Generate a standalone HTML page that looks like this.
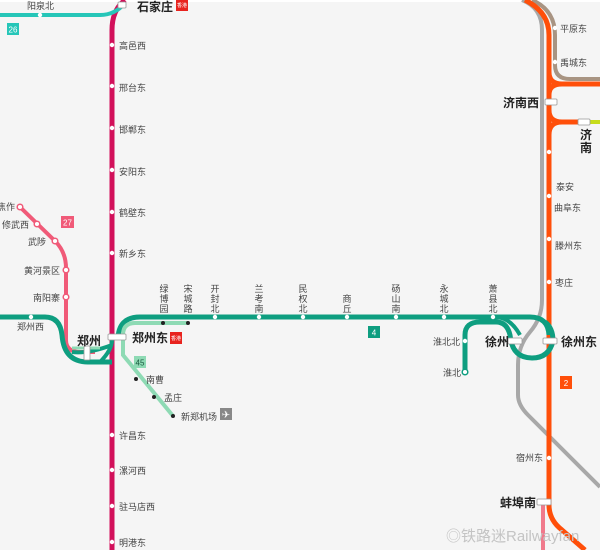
<!DOCTYPE html>
<html><head><meta charset="utf-8"><style>
html,body{margin:0;padding:0;background:#f5f5f5}
svg{display:block}
text{font-family:"Liberation Sans","Noto Sans CJK SC",sans-serif;fill:#444;font-size:9px}
.b{font-weight:bold;font-size:12px;fill:#222}
.w{fill:#fff;font-size:8px}
</style></head><body>
<svg width="600" height="550" viewBox="0 0 600 550">
<rect width="600" height="550" fill="#f5f5f5"/>
<line x1="0" y1="1" x2="600" y2="1" stroke="#fff" stroke-width="2"/>
<!-- gray -->
<path d="M522,0 Q542,8 542,30 L542,300 Q542,318 530,332 Q518,346 518,365 L518,395 Q518,405 528,415 L600,487" fill="none" stroke="#a8a8a8" stroke-width="4"/>
<!-- brown -->
<path d="M532,0 Q555,10 555,35 L555,65 Q555,79 570,79 L600,79" fill="none" stroke="#a89482" stroke-width="4"/>
<!-- orange -->
<path d="M525,0 Q549,12 549,35 L549,505 Q549,520 562,530 L585,550" fill="none" stroke="#ff4f0a" stroke-width="5"/>
<path d="M549,95 Q549,84 562,84 L600,84" fill="none" stroke="#ff4f0a" stroke-width="5"/>
<path d="M549,110 Q549,122 562,122 L582,122" fill="none" stroke="#ff4f0a" stroke-width="5"/>
<path d="M549,135 Q549,122 562,122" fill="none" stroke="#ff4f0a" stroke-width="5"/>
<path d="M549,72 Q549,84 562,84" fill="none" stroke="#ff4f0a" stroke-width="5"/>
<line x1="582" y1="122" x2="600" y2="122" stroke="#c6dc1a" stroke-width="4"/>
<line x1="543" y1="505" x2="543" y2="550" stroke="#f07a8c" stroke-width="4"/>
<!-- magenta -->
<path d="M125,0 Q112,10 112,30 L112,550" fill="none" stroke="#d2105a" stroke-width="5"/>
<!-- teal 26 -->
<path d="M0,15 L100,15 Q115,15 125,3" fill="none" stroke="#26c6b8" stroke-width="4"/>
<!-- pink 27 -->
<path d="M20,207 L55,241 Q66,252 66,268 L66,340 Q66,352 80,352 L95,352" fill="none" stroke="#f05a78" stroke-width="4"/>
<!-- green 4 -->
<path d="M0,317 L45,317 Q60,317 62,335 Q64,362 88,362 L112,362" fill="none" stroke="#0e9e80" stroke-width="5"/>
<path d="M72,352 Q88,354 112,345 M100,362 Q112,350 112,340" fill="none" stroke="#0e9e80" stroke-width="4"/>
<path d="M118,340 Q118,317 140,317 L530,317 Q548,317 549,335" fill="none" stroke="#0e9e80" stroke-width="5"/>
<path d="M465,372 L465,335 Q465,322 480,322 Q492,322 496,322 Q507,322 510,335 Q512,358 532,358 Q549,358 553,341 Q553,328 545,322" fill="none" stroke="#0e9e80" stroke-width="5"/>
<path d="M495,317 Q510,317 520,335" fill="none" stroke="#0e9e80" stroke-width="4"/>
<!-- light green 45 -->
<path d="M188,323 L135,323 Q123,323 123,335 L123,355 L173,416" fill="none" stroke="#8edab4" stroke-width="4"/>
<path d="M72,348 L100,348" stroke="#8edab4" stroke-width="3"/>
<!-- stations white dots -->
<g fill="#fff">
<circle cx="40" cy="15" r="2.2"/>
<circle cx="112" cy="45" r="2.2"/><circle cx="112" cy="86" r="2.2"/><circle cx="112" cy="128" r="2.2"/><circle cx="112" cy="170" r="2.2"/><circle cx="112" cy="212" r="2.2"/><circle cx="112" cy="253" r="2.2"/>
<circle cx="112" cy="435" r="2.2"/><circle cx="112" cy="470" r="2.2"/><circle cx="112" cy="506" r="2.2"/><circle cx="112" cy="542" r="2.2"/>
<circle cx="31" cy="317" r="2.2"/>
<circle cx="215" cy="317" r="2.2"/><circle cx="259" cy="317" r="2.2"/><circle cx="303" cy="317" r="2.2"/><circle cx="347" cy="317" r="2.2"/><circle cx="396" cy="317" r="2.2"/><circle cx="444" cy="317" r="2.2"/><circle cx="493" cy="317" r="2.2"/>
<circle cx="465" cy="341" r="2.2"/>
<circle cx="555" cy="28" r="2.2"/><circle cx="555" cy="62" r="2.2"/>
<circle cx="549" cy="152" r="2.2"/><circle cx="549" cy="196" r="2.2"/><circle cx="549" cy="239" r="2.2"/><circle cx="549" cy="282" r="2.2"/><circle cx="549" cy="458" r="2.2"/>
</g>
<g fill="#fff" stroke-width="1.5">
<circle cx="20" cy="207" r="2.8" stroke="#f05a78"/><circle cx="37" cy="224" r="2.8" stroke="#f05a78"/><circle cx="55" cy="241" r="2.8" stroke="#f05a78"/><circle cx="66" cy="270" r="2.8" stroke="#f05a78"/><circle cx="66" cy="297" r="2.8" stroke="#f05a78"/>
<circle cx="465" cy="372" r="2.8" stroke="#0e9e80"/>
</g>
<g fill="#222"><circle cx="163" cy="323" r="2"/><circle cx="188" cy="323" r="2"/><circle cx="136" cy="379" r="2"/><circle cx="154" cy="397" r="2"/><circle cx="173" cy="416" r="2"/></g>
<!-- interchange boxes -->
<g fill="#fff" stroke="#999" stroke-width="0.8">
<rect x="108" y="334" width="18" height="6" rx="1"/><rect x="84" y="346" width="6" height="14" rx="1"/>
<rect x="508" y="338" width="14" height="6" rx="1"/><rect x="543" y="338" width="14" height="6" rx="1"/>
<rect x="545" y="99" width="12" height="6" rx="1"/><rect x="578" y="119" width="12" height="6" rx="1"/>
<rect x="537" y="499" width="14" height="6" rx="1"/><rect x="118" y="2" width="8" height="6" rx="1"/>
</g>
<!-- badges -->
<rect x="7" y="23" width="12" height="12" fill="#26c6b8"/><text x="13" y="32.5" class="w" text-anchor="middle">26</text>
<rect x="61" y="216" width="13" height="12" fill="#f05a78"/><text x="67.5" y="225.5" class="w" text-anchor="middle">27</text>
<rect x="368" y="326" width="12" height="12" fill="#0e9e80"/><text x="374" y="335.5" class="w" text-anchor="middle">4</text>
<rect x="134" y="356" width="12" height="12" fill="#8edab4"/><text x="140" y="365.5" text-anchor="middle" style="fill:#1a5a40;font-size:8px">45</text>
<rect x="560" y="376" width="12" height="13" fill="#ff4f0a"/><text x="566" y="386" class="w" text-anchor="middle">2</text>
<rect x="176" y="0" width="12" height="11" fill="#e8231e"/><text x="182" y="7" text-anchor="middle" style="fill:#fff;font-size:5px">香港</text>
<rect x="170" y="332" width="12" height="12" fill="#e8231e"/><text x="176" y="340" text-anchor="middle" style="fill:#fff;font-size:5px">香港</text>
<rect x="220" y="408" width="12" height="12" fill="#888"/><text x="226" y="418" text-anchor="middle" style="fill:#fff;font-size:10px">✈</text>
<!-- labels -->
<text x="27" y="9">阳泉北</text>
<text x="137" y="11" class="b">石家庄</text>
<g>
<text x="119" y="49">高邑西</text><text x="119" y="91">邢台东</text><text x="119" y="133">邯郸东</text><text x="119" y="175">安阳东</text><text x="119" y="216">鹤壁东</text><text x="119" y="257">新乡东</text>
<text x="119" y="439">许昌东</text><text x="119" y="474">漯河西</text><text x="119" y="510">驻马店西</text><text x="119" y="546">明港东</text>
</g>
<text x="-3" y="210">焦作</text><text x="2" y="228">修武西</text><text x="28" y="245">武陟</text><text x="24" y="274">黄河景区</text><text x="33" y="301">南阳寨</text>
<text x="17" y="330">郑州西</text>
<text x="77" y="345" class="b">郑州</text>
<text x="132" y="342" class="b">郑州东</text>
<text x="146" y="383">南曹</text><text x="164" y="401">孟庄</text><text x="181" y="420">新郑机场</text>
<g text-anchor="middle">
<text x="164" y="292">绿</text><text x="164" y="302">博</text><text x="164" y="312">园</text>
<text x="188" y="292">宋</text><text x="188" y="302">城</text><text x="188" y="312">路</text>
<text x="215" y="292">开</text><text x="215" y="302">封</text><text x="215" y="312">北</text>
<text x="259" y="292">兰</text><text x="259" y="302">考</text><text x="259" y="312">南</text>
<text x="303" y="292">民</text><text x="303" y="302">权</text><text x="303" y="312">北</text>
<text x="347" y="302">商</text><text x="347" y="312">丘</text>
<text x="396" y="292">砀</text><text x="396" y="302">山</text><text x="396" y="312">南</text>
<text x="444" y="292">永</text><text x="444" y="302">城</text><text x="444" y="312">北</text>
<text x="493" y="292">萧</text><text x="493" y="302">县</text><text x="493" y="312">北</text>
</g>
<text x="433" y="345">淮北北</text><text x="443" y="376">淮北</text>
<text x="485" y="346" class="b">徐州</text>
<text x="561" y="346" class="b">徐州东</text>
<text x="560" y="32">平原东</text><text x="560" y="66">禹城东</text>
<text x="503" y="107" class="b">济南西</text>
<text x="580" y="139" class="b">济</text><text x="580" y="152" class="b">南</text>
<text x="556" y="190">泰安</text><text x="554" y="211">曲阜东</text><text x="555" y="249">滕州东</text><text x="555" y="286">枣庄</text>
<text x="516" y="461">宿州东</text>
<text x="500" y="507" class="b">蚌埠南</text>
<text x="446" y="541" style="fill:#c4c4c4;font-size:15px">◎铁路迷Railwayfan</text>
</svg>
</body></html>
